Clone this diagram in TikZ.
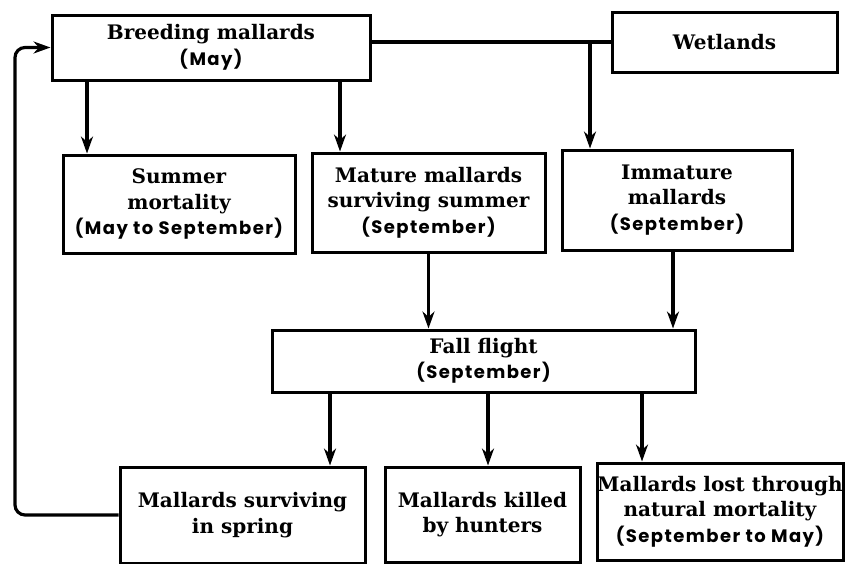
\documentclass[tikz,border=0pt]{standalone}
\usepackage{fontspec}
\setmainfont{DejaVu Serif}
\newfontfamily\subf[LetterSpace=8]{Poppins}
\usetikzlibrary{arrows.meta}

\begin{document}
\begin{tikzpicture}[x=1pt,y=-1pt,
    box/.style={draw,line width=3pt,align=center,inner sep=0pt,
                font=\fontsize{20}{25.5}\selectfont\bfseries},
    arr/.style={line width=3.2pt,-{Stealth[length=17pt,width=12pt]}}]
                          \useasboundingbox (0,0) rectangle (846,563);
                          \coordinate (c1) at (87,0);
                          \coordinate (c2) at (340,0);
                          \coordinate (c3) at (590,0);
                          \coordinate (c4) at (673,0);
                          \coordinate (c5) at (330,0);
                          \coordinate (c6) at (488,0);
                          \coordinate (c7) at (642,0);
                          \coordinate (lp) at (15,47.5);

                          \node[box,minimum width=318pt,minimum height=65pt] (breed) at (211,47.5) {Breeding mallards\\{\subf\fontsize{18}{27}\selectfont (May)}};
                          \node[box,minimum width=225pt,minimum height=60pt] (wet) at (724.5,42) {Wetlands};
                          \node[box,minimum width=232pt,minimum height=98pt] (summer) at (179,204) {Summer\\mortality\\{\subf\fontsize{18}{25.5}\selectfont (May to September)}};
                          \node[box,minimum width=233pt,minimum height=99pt] (mature) at (428.5,202.5) {Mature mallards\\surviving summer\\{\subf\fontsize{18}{25.5}\selectfont (September)}};
                          \node[box,minimum width=230pt,minimum height=100pt] (imm) at (677,200) {Immature\\mallards\\{\subf\fontsize{18}{25.5}\selectfont (September)}};
                          \node[box,minimum width=423pt,minimum height=62pt] (fall) at (483.5,361) {Fall flight\\{\subf\fontsize{18}{27}\selectfont (September)}};
                          \node[box,minimum width=245pt,minimum height=96pt] (surv) at (242.5,515) {Mallards surviving\\in spring};
                          \node[box,minimum width=195pt,minimum height=95pt] (kill) at (482.5,514.5) {Mallards killed\\by hunters};
                          \node[box,minimum width=246pt,minimum height=97pt] (lost) at (720,511.5) {Mallards lost through\\natural mortality\\{\subf\fontsize{18}{25.5}\selectfont (September to May)}};

                          \draw[line width=3.2pt] (breed.east |- wet.west) -- (wet.west);
                          \draw[arr] (c3 |- wet.west) -- (c3 |- imm.north);
                          \draw[arr] (c1 |- breed.south) -- (c1 |- summer.north);
                          \draw[arr] (c2 |- breed.south) -- (c2 |- mature.north);
                          \draw[arr] (mature.south) -- (mature.south |- fall.north);
                          \draw[arr] (c4 |- imm.south) -- (c4 |- fall.north);
                          \draw[arr] (c5 |- fall.south) -- (c5 |- surv.north);
                          \draw[arr] (c6 |- fall.south) -- (c6 |- kill.north);
                          \draw[arr] (c7 |- fall.south) -- (c7 |- lost.north);
                          \draw[arr,rounded corners=10pt] (surv.west) -| (lp) -- (breed.west);
                          \end{tikzpicture}
\end{document}
